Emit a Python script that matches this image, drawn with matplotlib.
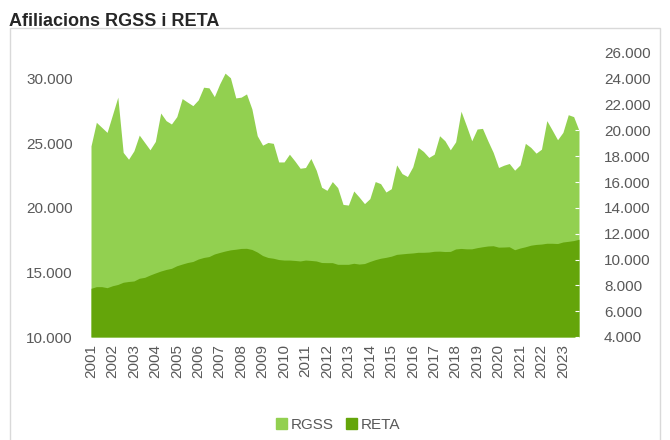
import numpy as np
import matplotlib
matplotlib.use('Agg')
import matplotlib.pyplot as plt
from matplotlib.patches import Patch, Rectangle
from matplotlib.ticker import FuncFormatter

# =========================
# Dades (trimestrals 2001T1 - 2023T4)
# =========================
anys = [str(a) for a in range(2001, 2024)]

rgss = [
    24800, 26630, 26240, 25850, 27210, 28580, 24300, 23770,   # 2001-2002
    24420, 25640, 25070, 24500, 25150, 27350, 26760, 26500,   # 2003-2004
    27070, 28470, 28190, 27920, 28370, 29350, 29300, 28620,   # 2005-2006
    29610, 30440, 30080, 28520, 28580, 28830, 27670, 25590,   # 2007-2008
    24860, 25070, 25000, 23560, 23560, 24160, 23640, 23070,   # 2009-2010
    23130, 23830, 22920, 21600, 21360, 22040, 21570, 20270,   # 2011-2012
    20220, 21310, 20840, 20330, 20720, 22040, 21880, 21230,   # 2013-2014
    21490, 23330, 22660, 22430, 23180, 24690, 24370, 23910,   # 2015-2016
    24160, 25590, 25200, 24500, 25120, 27490, 26370, 25200,   # 2017-2018
    26110, 26160, 25200, 24300, 23130, 23310, 23440, 22920,   # 2019-2020
    23330, 25000, 24690, 24240, 24550, 26760, 26030, 25280,   # 2021-2022
    25850, 27220, 27070, 26000,                               # 2023
]

reta = [
    7770, 7900, 7900, 7820, 7970, 8070, 8240, 8300,
    8340, 8550, 8620, 8800, 8960, 9110, 9230, 9320,
    9520, 9650, 9770, 9850, 10040, 10160, 10230, 10430,
    10550, 10660, 10750, 10800, 10860, 10870, 10780, 10580,
    10310, 10160, 10100, 10000, 9960, 9960, 9930, 9890,
    9960, 9930, 9890, 9770, 9760, 9760, 9630, 9630,
    9630, 9710, 9650, 9690, 9850, 9990, 10100, 10170,
    10260, 10400, 10440, 10480, 10510, 10560, 10560, 10580,
    10640, 10650, 10620, 10630, 10820, 10860, 10830, 10830,
    10920, 10990, 11050, 11070, 10960, 10970, 10990, 10760,
    10890, 10990, 11110, 11170, 11200, 11260, 11260, 11240,
    11360, 11410, 11470, 11570,
]

c_rgss = '#92d050'
c_reta = '#64a50a'
gris = '#595959'
font = ['Liberation Sans', 'DejaVu Sans']
mida = 11

x = np.arange(len(rgss))

fig = plt.figure(figsize=(6.7, 4.4), dpi=100)
ax = fig.add_axes([91 / 670, 1 - 337 / 440, (579 - 91) / 670, (337 - 53) / 440])
ax2 = ax.twinx()

# RGSS - eix esquerre
ax.fill_between(x, rgss, 10000, color=c_rgss, lw=0)
ax.set_ylim(10000, 32000)
ax.set_yticks(range(10000, 30001, 5000))

# RETA - eix dret
ax2.fill_between(x, reta, 4000, color=c_reta, lw=0)
ax2.set_ylim(4000, 26000)
ax2.set_yticks(range(4000, 26001, 2000))

fmt = FuncFormatter(lambda v, p: f'{int(v):,}'.replace(',', '.'))
ax.yaxis.set_major_formatter(fmt)
ax2.yaxis.set_major_formatter(fmt)

ax.set_xlim(0, len(rgss) - 1)
ax.set_xticks(range(0, len(rgss), 4))
ax.set_xticklabels(anys, rotation=90)

for a in (ax, ax2):
    for s in a.spines.values():
        s.set_visible(False)

ax.tick_params(axis='y', length=0, pad=13, labelsize=mida, labelcolor=gris)
ax.tick_params(axis='x', length=0, pad=5, labelsize=mida, labelcolor=gris)
ax2.tick_params(axis='y', length=3, direction='in', color='white', pad=18,
                labelsize=mida, labelcolor=gris)
for lab in ax.get_xticklabels() + ax.get_yticklabels() + ax2.get_yticklabels():
    lab.set_family(font)

# títol
fig.text(9 / 670, 1 - 26 / 440, 'Afiliacions RGSS i RETA', fontsize=13,
         fontweight='bold', color='#262626', family=font)

# marc del gràfic
fig.patches.append(Rectangle((10 / 670, -0.1), 650 / 670, 1.1 - 28 / 440,
                             transform=fig.transFigure, fill=False,
                             edgecolor='#d9d9d9', lw=1))

# llegenda
handles = [Patch(color=c_rgss, label='RGSS'), Patch(color=c_reta, label='RETA')]
leg = fig.legend(handles=handles, loc='center', bbox_to_anchor=(0.505, 0.034), ncol=2,
                 frameon=False, handlelength=0.7, handleheight=0.7,
                 handletextpad=0.25, columnspacing=0.8,
                 prop={'family': font, 'size': mida})
for t in leg.get_texts():
    t.set_color(gris)

fig.savefig('out.png', dpi=100)
